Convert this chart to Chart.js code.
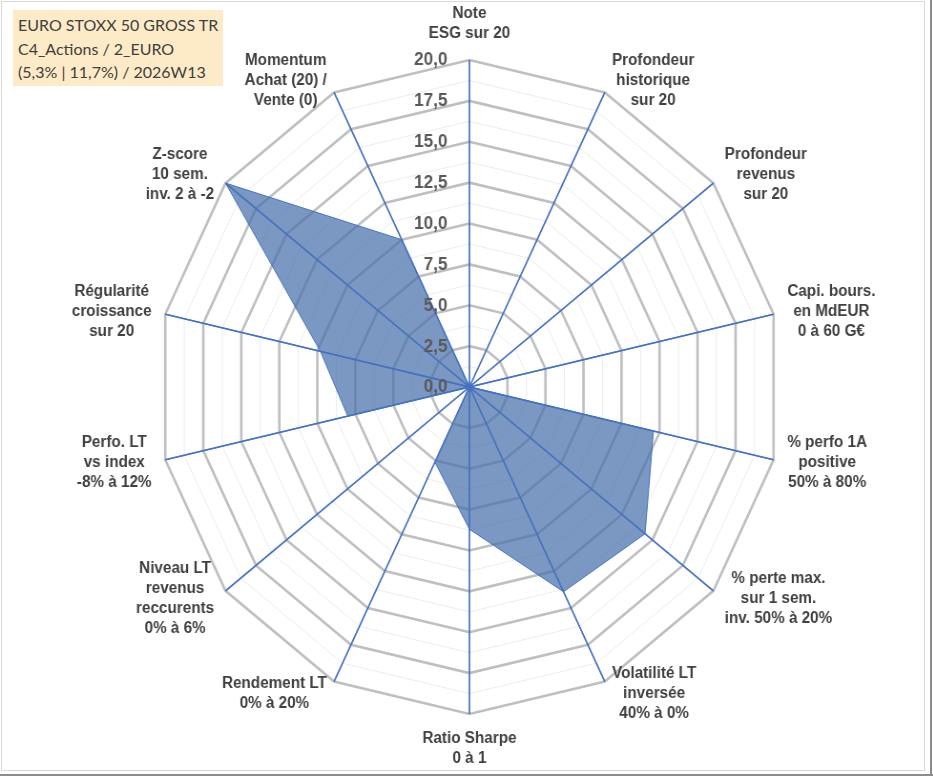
<!DOCTYPE html>
<html>
<head>
<meta charset="utf-8">
<script src="https://cdn.jsdelivr.net/npm/chart.js@4.4.1/dist/chart.umd.min.js"></script>
<style>
  html, body { margin: 0; padding: 0; background: #ffffff; }
  #page { position: relative; width: 933px; height: 776px; overflow: hidden; background: #fff; }
  #frame { position: absolute; left: 1px; top: 1px; width: 922px; height: 768px; border: 1px solid #D9D9D9; }
  #edgeR { position: absolute; left: 930px; top: 0; width: 2px; height: 776px; background: #8C8C8C; }
  #edgeB { position: absolute; left: 0; top: 774px; width: 933px; height: 2px; background: #8C8C8C; }
  #wrap { position: absolute; left: 0; top: 0; width: 978px; height: 776px; transform: scaleX(0.9541); transform-origin: 0 0; }
  #title { position: absolute; left: 13px; top: 10px; width: 205px; height: 73px; padding: 3px 0 0 5px;
           background: #FDEAC7; color: #404040; font-family: Lato, "Open Sans", sans-serif; font-size: 16px; line-height: 23.5px; white-space: nowrap; }
</style>
</head>
<body>
<div id="page">
  <div id="wrap"><canvas id="c" width="978" height="776"></canvas></div>
  <div id="frame"></div>
  <div id="edgeR"></div>
  <div id="edgeB"></div>
  <div id="title">EURO STOXX 50 GROSS TR<br>C4_Actions / 2_EURO<br>(5,3% | 11,7%) / 2026W13</div>
</div>
<script>
// ---- data ----
const axisLabels = [
  ["Note", "ESG sur 20"],
  ["Profondeur", "historique", "sur 20"],
  ["Profondeur", "revenus", "sur 20"],
  ["Capi. bours.", "en MdEUR", "0 à 60 G€"],
  ["% perfo 1A", "positive", "50% à 80%"],
  ["% perte max.", "sur 1 sem.", "inv. 50% à 20%"],
  ["Volatilité LT", "inversée", "40% à 0%"],
  ["Ratio Sharpe", "0 à 1"],
  ["Rendement LT", "0% à 20%"],
  ["Niveau LT", "revenus", "reccurents", "0% à 6%"],
  ["Perfo. LT", "vs index", "-8% à 12%"],
  ["Régularité", "croissance", "sur 20"],
  ["Z-score", "10 sem.", "inv. 2 à -2"],
  ["Momentum", "Achat (20) /", "Vente (0)"]
];
const scoreValues = [0, 0, 0, 0, 12.1, 14.4, 13.9, 8.7, 5.1, 0, 8.0, 9.8, 20, 10];
const tickValues = [0, 2.5, 5, 7.5, 10, 12.5, 15, 17.5, 20];
const tickLabels = ["0,0", "2,5", "5,0", "7,5", "10,0", "12,5", "15,0", "17,5", "20,0"];

const SX = 0.9541;   // horizontal display scale of the canvas
const LH = 20;       // label line height

const overlayPlugin = {
  id: 'xlOverlay',
  afterDatasetsDraw(chart) {
    // axis lines drawn again above the filled area
    const s = chart.scales.r;
    const ctx = chart.ctx;
    ctx.save();
    ctx.strokeStyle = 'rgba(68,114,196,0.85)';
    ctx.lineWidth = 1.3;
    const R = s.getDistanceFromCenterForValue(s.max);
    for (let i = 0; i < axisLabels.length; i++) {
      const p = s.getPointPosition(i, R);
      ctx.beginPath();
      ctx.moveTo(s.xCenter, s.yCenter);
      ctx.lineTo(p.x, p.y);
      ctx.stroke();
    }
    ctx.restore();
  },
  afterDraw(chart) {
    const s = chart.scales.r;
    const ctx = chart.ctx;
    ctx.save();
    // radial tick labels, left of the vertical axis
    ctx.font = 'bold 18px "Liberation Sans", Arial, sans-serif';
    ctx.fillStyle = '#595959';
    ctx.textAlign = 'right';
    ctx.textBaseline = 'middle';
    tickValues.forEach((v, i) => {
      const d = s.getDistanceFromCenterForValue(v);
      ctx.fillText(tickLabels[i], s.xCenter - 23, s.yCenter - d + 0.5);
    });
    // point labels, lines centered
    ctx.font = 'bold 16px "Liberation Sans", Arial, sans-serif';
    ctx.fillStyle = '#404040';
    ctx.textAlign = 'center';
    const R = s.drawingArea;
    axisLabels.forEach((lines, i) => {
      const p = s.getPointPosition(i, R);
      const ang = s.getIndexAngle(i);
      const sn = Math.sin(ang), cs = Math.cos(ang);
      const w = Math.max(...lines.map(l => ctx.measureText(l).width));
      const h = lines.length * LH;
      let cx, cy;
      if (Math.abs(sn) < 0.01) {
        cx = p.x;
        cy = p.y - Math.sign(cs) * ((cs > 0 ? 16 : 15) + h / 2);
      } else {
        cx = p.x + Math.sign(sn) * ((2 + 12 * Math.abs(sn)) / SX + w / 2);
        cy = p.y - 13 * cs;
      }
      lines.forEach((l, k) => ctx.fillText(l, cx, cy - h / 2 + LH / 2 + k * LH));
    });
    ctx.restore();
  }
};

new Chart(document.getElementById('c'), {
  type: 'radar',
  data: {
    labels: axisLabels,
    datasets: [{
      data: scoreValues,
      fill: true,
      backgroundColor: 'rgba(72,112,172,0.72)',
      borderColor: '#4472C4',
      borderWidth: 1,
      pointRadius: 0,
      pointHoverRadius: 0,
      tension: 0
    }]
  },
  options: {
    responsive: false,
    animation: false,
    devicePixelRatio: 1,
    layout: { padding: { top: 60, bottom: 62, left: 7, right: 0 } },
    plugins: { legend: { display: false }, tooltip: { enabled: false } },
    scales: {
      r: {
        min: 0,
        max: 20,
        ticks: { display: false, stepSize: 1.25 },
        pointLabels: { display: false },
        grid: {
          color: (c) => (c.index % 2 === 0 ? '#BFBFBF' : '#ECECEC'),
          lineWidth: (c) => (c.index % 2 === 0 ? 2.6 : 1)
        },
        angleLines: { color: '#4472C4', lineWidth: 1.4 }
      }
    }
  },
  plugins: [overlayPlugin]
});
</script>
</body>
</html>
